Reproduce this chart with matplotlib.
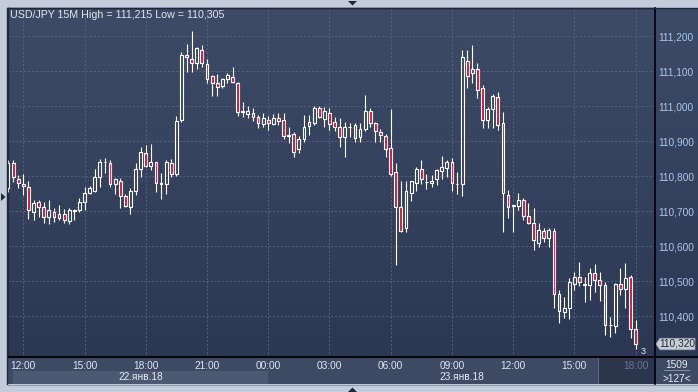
"""USD/JPY 15M candles, 22-23 Jan 2018."""

import numpy as np
import matplotlib
matplotlib.use("Agg")
import matplotlib.pyplot as plt
from matplotlib.colors import LinearSegmentedColormap
from matplotlib.patches import Polygon, Rectangle
from matplotlib.lines import Line2D
from matplotlib.ticker import FuncFormatter
from matplotlib.transforms import blended_transform_factory

# candle index: 0 = 22 Jan 12:00, one step = 15 minutes
candle_idx = list(range(-3, 121))

opens = [
    110.765, 110.837, 110.791, 110.777, 110.769, 110.696, 110.725, 110.711, 110.684, 110.696,
    110.681, 110.691, 110.671, 110.701, 110.703, 110.725, 110.751, 110.758, 110.797, 110.839,
    110.837, 110.777, 110.786, 110.743, 110.711, 110.758, 110.819, 110.865, 110.830, 110.839,
    110.778, 110.777, 110.837, 110.806, 110.960, 111.146, 111.133, 111.124, 111.160, 111.120,
    111.086, 111.065, 111.058, 111.078, 111.084, 111.065, 110.984, 110.977, 110.979, 110.969,
    110.949, 110.960, 110.949, 110.967, 110.960, 110.914, 110.920, 110.876, 110.906, 110.943,
    110.951, 110.993, 110.963, 110.979, 110.955, 110.941, 110.912, 110.940, 110.946, 110.911,
    110.933, 110.986, 110.951, 110.925, 110.914, 110.879, 110.811, 110.711, 110.651, 110.751,
    110.779, 110.819, 110.783, 110.779, 110.791, 110.815, 110.824, 110.839, 110.777, 110.776,
    111.129, 111.094, 111.106, 111.051, 110.960, 110.991, 111.025, 110.952, 110.746, 110.714,
    110.715, 110.731, 110.686, 110.665, 110.610, 110.643, 110.622, 110.643, 110.463, 110.412,
    110.422, 110.491, 110.511, 110.490, 110.489, 110.524, 110.503, 110.489, 110.374, 110.372,
    110.491, 110.476, 110.511, 110.362,
]
highs = [
    110.845, 110.846, 110.803, 110.806, 110.786, 110.731, 110.731, 110.725, 110.731, 110.708,
    110.717, 110.705, 110.708, 110.705, 110.737, 110.769, 110.771, 110.820, 110.848, 110.851,
    110.846, 110.794, 110.794, 110.749, 110.765, 110.838, 110.884, 110.889, 110.891, 110.841,
    110.808, 110.846, 110.848, 110.971, 111.155, 111.176, 111.215, 111.169, 111.174, 111.133,
    111.089, 111.091, 111.081, 111.095, 111.112, 111.069, 111.012, 111.000, 110.993, 110.974,
    110.979, 110.971, 110.977, 110.980, 110.980, 110.941, 110.927, 110.914, 110.974, 110.974,
    111.000, 111.000, 110.998, 110.993, 110.969, 110.965, 110.955, 110.952, 110.951, 110.951,
    111.031, 110.993, 110.955, 110.934, 110.920, 110.991, 110.837, 110.786, 110.786, 110.786,
    110.827, 110.846, 110.806, 110.803, 110.819, 110.857, 110.846, 110.851, 110.812, 111.160,
    111.160, 111.174, 111.122, 111.060, 110.998, 111.033, 111.041, 110.984, 110.760, 110.717,
    110.752, 110.738, 110.722, 110.709, 110.665, 110.651, 110.651, 110.651, 110.474, 110.453,
    110.508, 110.527, 110.555, 110.511, 110.536, 110.549, 110.527, 110.498, 110.396, 110.493,
    110.536, 110.551, 110.517, 110.389,
]
lows = [
    110.755, 110.783, 110.766, 110.746, 110.676, 110.674, 110.682, 110.665, 110.662, 110.670,
    110.674, 110.665, 110.662, 110.674, 110.696, 110.703, 110.749, 110.755, 110.769, 110.809,
    110.769, 110.749, 110.710, 110.711, 110.691, 110.746, 110.797, 110.826, 110.817, 110.755,
    110.734, 110.749, 110.798, 110.800, 110.954, 111.098, 111.098, 111.105, 111.112, 111.065,
    111.029, 111.029, 111.051, 111.065, 111.065, 110.971, 110.969, 110.965, 110.958, 110.936,
    110.941, 110.931, 110.946, 110.946, 110.905, 110.895, 110.855, 110.865, 110.898, 110.917,
    110.946, 110.965, 110.941, 110.931, 110.929, 110.884, 110.855, 110.912, 110.898, 110.898,
    110.929, 110.941, 110.898, 110.898, 110.855, 110.800, 110.546, 110.640, 110.641, 110.729,
    110.758, 110.777, 110.763, 110.769, 110.774, 110.791, 110.797, 110.757, 110.749, 110.743,
    111.051, 111.065, 111.024, 110.938, 110.938, 110.937, 110.931, 110.641, 110.681, 110.641,
    110.703, 110.674, 110.662, 110.589, 110.598, 110.611, 110.596, 110.422, 110.381, 110.393,
    110.391, 110.474, 110.487, 110.441, 110.446, 110.470, 110.444, 110.346, 110.341, 110.351,
    110.460, 110.422, 110.336, 110.305,
]
closes = [
    110.837, 110.797, 110.780, 110.771, 110.703, 110.722, 110.711, 110.684, 110.703, 110.684,
    110.691, 110.674, 110.703, 110.703, 110.725, 110.752, 110.766, 110.797, 110.840, 110.840,
    110.777, 110.791, 110.744, 110.715, 110.757, 110.819, 110.869, 110.829, 110.839, 110.779,
    110.780, 110.839, 110.805, 110.957, 111.146, 111.139, 111.124, 111.165, 111.124, 111.078,
    111.065, 111.053, 111.078, 111.089, 111.068, 110.984, 110.986, 110.986, 110.969, 110.951,
    110.965, 110.952, 110.965, 110.958, 110.914, 110.916, 110.869, 110.906, 110.939, 110.955,
    110.993, 110.969, 110.986, 110.949, 110.939, 110.912, 110.941, 110.941, 110.909, 110.934,
    110.986, 110.952, 110.929, 110.917, 110.876, 110.805, 110.711, 110.644, 110.757, 110.786,
    110.819, 110.791, 110.784, 110.786, 110.817, 110.825, 110.839, 110.779, 110.778, 111.140,
    111.087, 111.106, 111.046, 110.960, 110.991, 111.029, 110.946, 110.751, 110.711, 110.716,
    110.731, 110.686, 110.665, 110.617, 110.646, 110.622, 110.646, 110.463, 110.415, 110.422,
    110.496, 110.511, 110.496, 110.491, 110.524, 110.503, 110.489, 110.374, 110.375, 110.491,
    110.476, 110.508, 110.362, 110.320,
]

price_ticks = [110.4, 110.5, 110.6, 110.7, 110.8, 110.9, 111.0, 111.1, 111.2]
time_tick_idx = [0, 12, 24, 36, 48, 60, 72, 84, 96, 108, 120]
time_tick_labels = ["12:00", "15:00", "18:00", "21:00", "00:00", "03:00",
                    "06:00", "09:00", "12:00", "15:00", "18:00"]
day_labels = ["22.янв.18", "23.янв.18"]
day_spans = [(-2.1, 48), (48, 124)]
title = "USD/JPY 15M High = 111,215 Low = 110,305"

W, H = 698, 392


def box(x0, y0, x1, y1):
    return [x0 / W, 1 - y1 / H, (x1 - x0) / W, (y1 - y0) / H]


def fx(x):
    return x / W


def fy(y):
    return 1 - y / H


def price_fmt(v, _pos=None):
    return f"{v:.3f}".replace(".", ",")


def main() -> None:
    plt.rcParams["font.family"] = ["Liberation Sans", "DejaVu Sans"]
    fig = plt.figure(figsize=(6.98, 3.92), dpi=100)
    fig.patch.set_facecolor("#c3cdda")

    # gradient background behind price area and right scale
    bg = fig.add_axes(box(8, 8, 698, 357))
    bg_cmap = LinearSegmentedColormap.from_list("bg", ["#2c3853", "#3e4b67"])
    bg.imshow(np.linspace(0, 1, 256)[:, None][::-1], cmap=bg_cmap, aspect="auto",
              extent=(0, 1, 0, 1))
    bg.set_axis_off()
    bg.set_zorder(0)

    ax = fig.add_axes(box(8, 8, 655, 357))
    ax.set_zorder(1)
    ax.set_facecolor("none")
    ax.set_xlim(-3.0, 123.8)
    ax.set_ylim(110.2829, 111.28)

    o = np.array(opens)
    h = np.array(highs)
    l = np.array(lows)
    c = np.array(closes)
    x = np.array(candle_idx)
    up = c >= o
    lo = np.minimum(o, c)
    hi = np.maximum(o, c)

    ax.vlines(x, hi, h, color="white", lw=0.8, zorder=3)
    ax.vlines(x, l, lo, color="white", lw=0.8, zorder=3)
    ax.bar(x[up], (hi - lo)[up], bottom=lo[up], width=0.55, facecolor="none",
           edgecolor="white", lw=0.8, zorder=4)
    ax.bar(x[~up], (hi - lo)[~up], bottom=lo[~up], width=0.55, facecolor="#e2112f",
           edgecolor="white", lw=0.8, zorder=4)

    ax.set_yticks(price_ticks)
    ax.yaxis.set_major_formatter(FuncFormatter(price_fmt))
    ax.yaxis.tick_right()
    ax.set_xticks(time_tick_idx)
    ax.tick_params(axis="y", length=0, pad=2.6, labelsize=7.3, labelcolor="#a9c7ee")
    ax.tick_params(axis="x", length=0, labelbottom=False)
    ax.grid(True, color="#56637f", linestyle=(0, (2, 2)), lw=0.7)
    for side in ["left", "top"]:
        ax.spines[side].set_color("#1f2738")
        ax.spines[side].set_linewidth(1.0)
    ax.spines["right"].set_visible(False)
    ax.spines["bottom"].set_visible(False)

    # time / date band
    band = fig.add_axes(box(8, 357, 655, 384))
    band.set_xlim(ax.get_xlim())
    band.set_ylim(27, 0)
    band.set_axis_off()
    band.add_patch(Rectangle((-3.0, 0), 127, 27, facecolor="#3e4a64", lw=0))
    band.add_patch(Rectangle((day_spans[0][0], 14), day_spans[0][1] - day_spans[0][0], 13,
                             facecolor="#4c5973", lw=0))
    band.add_patch(Rectangle((112.6, 0), 12, 27, facecolor="#2b364d", lw=0))
    band.plot([112.6, 112.6], [0, 27], color="#5b6781", lw=0.8)
    for pos, lab in zip(time_tick_idx, time_tick_labels):
        col = "#68768f" if pos == time_tick_idx[-1] else "#dbe6f5"
        band.text(pos, 8.7, lab, ha="center", va="center", fontsize=7.3, color=col)
    for (a, b), lab in zip(day_spans, day_labels):
        band.text((a + b) / 2, 20.5, lab, ha="center", va="center", fontsize=7.3,
                  color="#e6ebf2")

    corner = fig.add_axes(box(655, 357, 698, 384))
    corner.set_xlim(0, 43)
    corner.set_ylim(27, 0)
    corner.set_axis_off()
    corner.add_patch(Rectangle((0, 0), 43, 27, facecolor="#3e4a64", lw=0))
    corner.text(22, 8, "1509", ha="center", va="center", fontsize=7.3, color="#e6ebf2")
    corner.plot([9, 34], [12.5, 12.5], color="#8d99ad", lw=0.6)
    corner.text(22, 21.5, ">127<", ha="center", va="center", fontsize=7.3, color="#e6ebf2")

    # frame lines
    fig.add_artist(Line2D([fx(8), 1], [fy(357), fy(357)], color="black", lw=1.3))
    fig.add_artist(Line2D([fx(655), fx(655)], [fy(8), fy(384)], color="black", lw=1.2))
    fig.add_artist(Line2D([fx(8), 1], [fy(7.5), fy(7.5)], color="#1f2738", lw=1.0))
    fig.add_artist(Line2D([fx(7.5), fx(7.5)], [fy(7.5), fy(384)], color="#1f2738", lw=1.0))
    fig.add_artist(Line2D([fx(8), 1], [fy(384.5), fy(384.5)], color="#8f9bab", lw=0.8))

    # last price tag
    tr = blended_transform_factory(fig.transFigure, ax.transData)
    last = closes[-1]
    hh = 0.0165
    fig.add_artist(Polygon([(fx(656), last), (fx(660), last + hh), (fx(695), last + hh),
                            (fx(695), last - hh), (fx(660), last - hh)],
                           closed=True, transform=tr, facecolor="#c9cdd3",
                           edgecolor="#9aa3b0", lw=0.5))
    fig.text(fx(677.5), fy(343), price_fmt(last), transform=fig.transFigure, ha="center",
             va="center", fontsize=7.3, color="#222b3a")
    fig.text(fx(643.5), fy(352), "3", ha="center", va="center", fontsize=6.5,
             color="#e6ebf2")

    fig.text(fx(10), fy(14.5), title, ha="left", va="center", fontsize=7.7, color="#e1e6ee")

    # small navigation arrows
    for pts in ([(348, 1), (357, 1), (352.5, 5.5)],
                [(348, 392), (357, 392), (352.5, 387.5)],
                [(1, 193), (1, 201), (5.5, 197)]):
        fig.add_artist(Polygon([(fx(a), fy(b)) for a, b in pts], closed=True,
                               transform=fig.transFigure, facecolor="#1e293b", lw=0))

    fig.savefig("out.png", dpi=100, facecolor=fig.get_facecolor())


if __name__ == "__main__":
    main()
